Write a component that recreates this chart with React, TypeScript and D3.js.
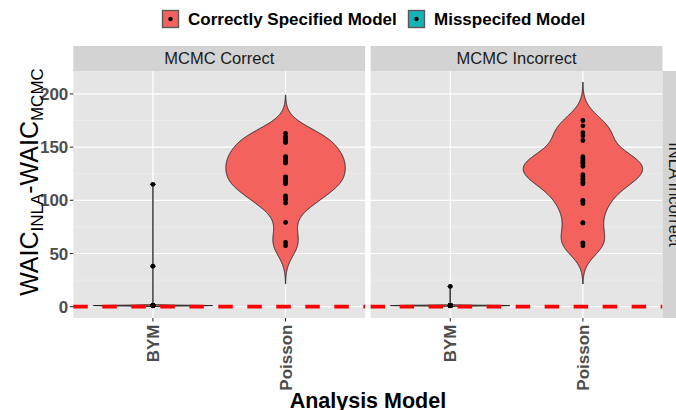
import React, { useEffect, useRef } from 'react';
import * as d3 from 'd3';

const width = 676;
const height = 410;

const facets = ['MCMC Correct', 'MCMC Incorrect'];
const rowStrip = 'INLA Incorrect';
const models = ['BYM', 'Poisson'];
const legendLabels = ['Correctly Specified Model', 'Misspecifed Model'];
const legendColors = ['#F3625D', '#13B3B6'];
const yTicks = [0, 50, 100, 150, 200];
const yMinorTicks = [25, 75, 125, 175];
const refLine = 0;

// WAIC(INLA) - WAIC(MCMC), one value per simulated data set
const bymCorrect = [
    0.9, 1.0, 1.1, 0.9, 1.0, 1.0, 1.1, 0.8, 1.0, 0.9, 1.2, 1.0,
    1.0, 0.9, 1.1, 1.0, 1.0, 0.8, 1.1, 1.0, 0.9, 1.0, 1.2, 1.0,
    38, 115,
];
const poissonCorrect = [
    163, 160, 158, 156.8, 155, 154.3,
    141, 140.5, 139, 138, 137.4, 136, 135,
    122, 121.8, 120, 119, 118.6, 117, 115.5,
    104.2, 102, 100.5, 97.4,
    79.2,
    60.4, 57.3,
];
const bymIncorrect = [
    0.9, 1.0, 1.1, 0.9, 1.0, 1.0, 1.1, 0.8, 1.0, 0.9, 1.2, 1.0,
    1.0, 0.9, 1.1, 1.0, 1.0, 0.8, 1.1, 1.0, 0.9, 1.0, 1.2, 1.0,
    19,
];
const poissonIncorrect = [
    175, 170,
    163.7, 160.6, 156.2,
    141, 139.6, 138, 136.4, 135, 134.3, 132,
    124, 122.3, 120, 119.2, 117, 115.5,
    100, 98.9, 97,
    79, 78.6,
    60, 59.8, 57.3,
];
const bandwidth = { BYM: 0.3, Poisson: 12 };

const panelData = [
    { facet: facets[0], model: models[0], values: bymCorrect },
    { facet: facets[0], model: models[1], values: poissonCorrect },
    { facet: facets[1], model: models[0], values: bymIncorrect },
    { facet: facets[1], model: models[1], values: poissonIncorrect },
];

// gaussian kde like R density(), cut = 3
const kde = (values: number[], bw: number) => {
    const lo = (d3.min(values) as number) - 3 * bw;
    const hi = (d3.max(values) as number) + 3 * bw;
    return d3.range(512).map(i => {
        const v = lo + ((hi - lo) * i) / 511;
        const d =
            (d3.mean(values, x => Math.exp(-0.5 * ((v - x) / bw) ** 2)) as number) /
            (bw * Math.sqrt(2 * Math.PI));
        return { v, d };
    });
};

const font = '"Liberation Sans", Arial, Helvetica, sans-serif';

const App = () => {
    const ref = useRef<SVGSVGElement>(null);

    useEffect(() => {
        document.body.style.margin = '0';
        const svg = d3.select(ref.current);
        svg.selectAll('*').remove();

        const plotLeft = 73.3;
        const plotRight = 662.5;
        const spacing = 5.5;
        const panelTop = 71;
        const panelBottom = 318;
        const stripH = 25;
        const panelW = (plotRight - plotLeft - spacing) / 2;

        const violins = panelData.map(p => ({
            ...p,
            dens: kde(p.values, bandwidth[p.model as 'BYM' | 'Poisson']),
        }));

        const lo = d3.min(violins, v => v.dens[0].v) as number;
        const hi = d3.max(violins, v => v.dens[v.dens.length - 1].v) as number;
        const pad = (hi - lo) * 0.05;
        const y = d3
            .scaleLinear()
            .domain([lo - pad, hi + pad])
            .range([panelBottom, panelTop]);

        const fx = d3
            .scaleBand()
            .domain(facets)
            .range([plotLeft, plotRight + spacing]);

        const x = d3
            .scalePoint()
            .domain(models)
            .range([0, panelW])
            .padding(0.6);
        const halfMax = 0.45 * x.step();

        facets.forEach(f => {
            const g = svg
                .append('g')
                .attr('transform', `translate(${fx(f)},0)`);

            g.append('rect')
                .attr('x', 0)
                .attr('y', panelTop)
                .attr('width', panelW)
                .attr('height', panelBottom - panelTop)
                .attr('fill', '#E5E5E5');

            g.selectAll('.minor')
                .data(yMinorTicks)
                .enter()
                .append('line')
                .attr('x1', 0)
                .attr('x2', panelW)
                .attr('y1', d => y(d))
                .attr('y2', d => y(d))
                .attr('stroke', '#F2F2F2')
                .attr('stroke-width', 0.6);

            g.selectAll('.major')
                .data(yTicks)
                .enter()
                .append('line')
                .attr('x1', 0)
                .attr('x2', panelW)
                .attr('y1', d => y(d))
                .attr('y2', d => y(d))
                .attr('stroke', '#FFFFFF')
                .attr('stroke-width', 1.2);

            g.selectAll('.vmajor')
                .data(models)
                .enter()
                .append('line')
                .attr('x1', d => x(d) as number)
                .attr('x2', d => x(d) as number)
                .attr('y1', panelTop)
                .attr('y2', panelBottom)
                .attr('stroke', '#FFFFFF')
                .attr('stroke-width', 1.2);

            // strip
            g.append('rect')
                .attr('x', 0)
                .attr('y', panelTop - stripH)
                .attr('width', panelW)
                .attr('height', stripH)
                .attr('fill', '#D3D3D3');
            g.append('text')
                .attr('x', panelW / 2)
                .attr('y', panelTop - stripH / 2)
                .attr('dy', '0.36em')
                .attr('text-anchor', 'middle')
                .style('font', `16.5px ${font}`)
                .attr('fill', '#1A1A1A')
                .text(f);

            // violins
            violins
                .filter(v => v.facet === f)
                .forEach(v => {
                    const cx = x(v.model) as number;
                    const maxD = d3.max(v.dens, d => d.d) as number;
                    const w = d3.scaleLinear().domain([0, maxD]).range([0, halfMax]);
                    const area = d3
                        .area<{ v: number; d: number }>()
                        .x0(d => cx - w(d.d))
                        .x1(d => cx + w(d.d))
                        .y(d => y(d.v));
                    g.append('path')
                        .attr('d', area(v.dens))
                        .attr('fill', legendColors[0])
                        .attr('stroke', '#262626')
                        .attr('stroke-width', 1);
                    g.selectAll(null)
                        .data(v.values)
                        .enter()
                        .append('circle')
                        .attr('cx', cx)
                        .attr('cy', d => y(d))
                        .attr('r', 2.4)
                        .attr('fill', '#000000');
                });

            g.append('line')
                .attr('x1', 0)
                .attr('x2', panelW)
                .attr('y1', y(refLine))
                .attr('y2', y(refLine))
                .attr('stroke', '#FF0000')
                .attr('stroke-width', 3.6)
                .attr('stroke-dasharray', '14.5 14.5');

            // x axis
            g.selectAll('.xtick')
                .data(models)
                .enter()
                .append('line')
                .attr('x1', d => x(d) as number)
                .attr('x2', d => x(d) as number)
                .attr('y1', panelBottom)
                .attr('y2', panelBottom + 3.5)
                .attr('stroke', '#333333')
                .attr('stroke-width', 1.1);
            g.selectAll('.xlab')
                .data(models)
                .enter()
                .append('text')
                .attr(
                    'transform',
                    d => `translate(${x(d)},${panelBottom + 6.5}) rotate(-90)`
                )
                .attr('dy', '0.36em')
                .attr('text-anchor', 'end')
                .style('font', `bold 17px ${font}`)
                .attr('fill', '#4D4D4D')
                .text(d => d);
        });

        // right strip
        svg.append('rect')
            .attr('x', plotRight)
            .attr('y', panelTop)
            .attr('width', stripH)
            .attr('height', panelBottom - panelTop)
            .attr('fill', '#D3D3D3');
        svg.append('text')
            .attr(
                'transform',
                `translate(${plotRight + stripH / 2},${(panelTop + panelBottom) / 2}) rotate(90)`
            )
            .attr('dy', '0.36em')
            .attr('text-anchor', 'middle')
            .style('font', `16.5px ${font}`)
            .attr('fill', '#1A1A1A')
            .text(rowStrip);

        // y axis
        const ya = svg.append('g');
        ya.selectAll('line')
            .data(yTicks)
            .enter()
            .append('line')
            .attr('x1', plotLeft - 3.5)
            .attr('x2', plotLeft)
            .attr('y1', d => y(d))
            .attr('y2', d => y(d))
            .attr('stroke', '#333333')
            .attr('stroke-width', 1.1);
        ya.selectAll('text')
            .data(yTicks)
            .enter()
            .append('text')
            .attr('x', plotLeft - 5)
            .attr('y', d => y(d))
            .attr('dy', '0.36em')
            .attr('text-anchor', 'end')
            .style('font', `bold 17px ${font}`)
            .attr('fill', '#4D4D4D')
            .text(d => d);

        const yt = svg
            .append('text')
            .attr('transform', `translate(38,182) rotate(-90)`)
            .attr('text-anchor', 'middle')
            .style('font', `25px ${font}`)
            .attr('fill', '#000000');
        yt.append('tspan').text('WAIC');
        yt.append('tspan').attr('font-size', 17).attr('dy', 5).text('INLA');
        yt.append('tspan').attr('dy', -5).text('-WAIC');
        yt.append('tspan').attr('font-size', 17).attr('dy', 5).text('MCMC');

        svg.append('text')
            .attr('x', (plotLeft + plotRight) / 2)
            .attr('y', 408)
            .attr('text-anchor', 'middle')
            .style('font', `bold 21.5px ${font}`)
            .attr('fill', '#000000')
            .text('Analysis Model');

        // legend
        const lg = svg.append('g').attr('transform', 'translate(162,10)');
        const keyX = [0, 246];
        legendLabels.forEach((lab, i) => {
            const k = lg.append('g').attr('transform', `translate(${keyX[i]},0)`);
            k.append('rect')
                .attr('x', 0.5)
                .attr('y', 0.5)
                .attr('width', 16)
                .attr('height', 17)
                .attr('fill', legendColors[i])
                .attr('stroke', '#595959')
                .attr('stroke-width', 1.4);
            k.append('circle')
                .attr('cx', 8.5)
                .attr('cy', 9)
                .attr('r', 2.2)
                .attr('fill', '#000000');
            k.append('text')
                .attr('x', 26)
                .attr('y', 9)
                .attr('dy', '0.36em')
                .style('font', `bold 17px ${font}`)
                .attr('fill', '#000000')
                .text(lab);
        });
    }, []);

    return <svg ref={ref} width={width} height={height} style={{ display: 'block' }} />;
};

export default App;
